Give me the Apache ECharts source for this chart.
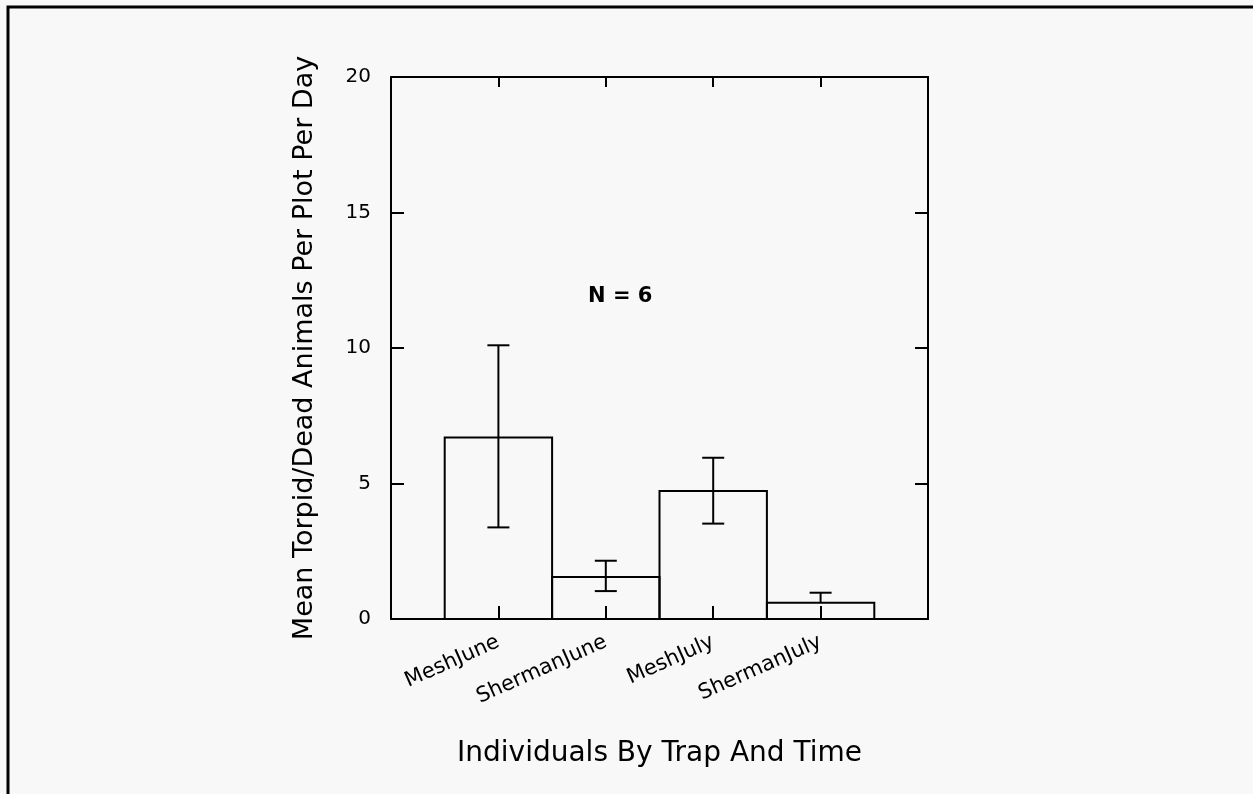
<!DOCTYPE html>
<html>
<head>
<meta charset="utf-8">
<script src="https://cdn.jsdelivr.net/npm/echarts@6/dist/echarts.min.js"></script>
<style>
html,body{margin:0;padding:0;background:#f8f8f8;}
#chart{width:1253px;height:794px;}
</style>
</head>
<body>
<div id="chart"></div>
<script>
// ---- data ----
var categories = ["MeshJune", "ShermanJune", "MeshJuly", "ShermanJuly"];
var means = [6.7, 1.55, 4.72, 0.6];
var upper = [10.1, 2.15, 5.95, 0.97];
var lower = [3.38, 1.03, 3.52, null];
var yTicks = [0, 5, 10, 15, 20];
var annotation = "N = 6";
var xTitle = "Individuals By Trap And Time";
var yTitle = "Mean Torpid/Dead Animals Per Plot Per Day";

var FONT = "DejaVu Sans";
var chart = echarts.init(document.getElementById('chart'), null, {renderer: 'canvas'});

var barData = categories.map(function (c, i) { return [i + 1, means[i]]; });
var errData = categories.map(function (c, i) { return [i + 1, means[i], upper[i], lower[i] == null ? NaN : lower[i]]; });

var frameLine = {show: true, onZero: false, lineStyle: {color: '#000', width: 2}};

var option = {
  backgroundColor: '#f8f8f8',
  animation: false,
  grid: {left: 391, top: 77, right: 325, bottom: 175, containLabel: false},
  xAxis: [{
    type: 'value', min: 0, max: categories.length + 1, interval: 1, position: 'bottom',
    axisLine: frameLine,
    axisTick: {show: true, inside: true, length: 13, lineStyle: {color: '#000', width: 2}},
    splitLine: {show: false},
    axisLabel: {
      rotate: 24, margin: 22, fontFamily: FONT, fontSize: 21, color: '#000',
      formatter: function (v) { return categories[v - 1] || ''; }
    },
    name: xTitle, nameLocation: 'middle', nameGap: 121,
    nameTextStyle: {fontFamily: FONT, fontSize: 28, color: '#000'}
  }, {
    type: 'value', min: 0, max: categories.length + 1, interval: 1, position: 'top',
    axisLine: frameLine,
    axisTick: {show: true, inside: true, length: 10, lineStyle: {color: '#000', width: 2}},
    axisLabel: {show: false}, splitLine: {show: false}
  }],
  yAxis: [{
    type: 'value', min: 0, max: 20, interval: 5, position: 'left',
    axisLine: frameLine,
    axisTick: {show: true, inside: true, length: 13, lineStyle: {color: '#000', width: 2}},
    splitLine: {show: false},
    axisLabel: {margin: 20, fontFamily: FONT, fontSize: 20, color: '#000'},
    name: yTitle, nameLocation: 'middle', nameGap: 73,
    nameTextStyle: {fontFamily: FONT, fontSize: 27, color: '#000'}
  }, {
    type: 'value', min: 0, max: 20, interval: 5, position: 'right',
    axisLine: frameLine,
    axisTick: {show: true, inside: true, length: 13, lineStyle: {color: '#000', width: 2}},
    axisLabel: {show: false}, splitLine: {show: false}
  }],
  series: [{
    type: 'custom',
    xAxisIndex: 0, yAxisIndex: 0,
    data: barData,
    renderItem: function (params, api) {
      var x = api.value(0), v = api.value(1);
      var top = api.coord([x, v]);
      var bot = api.coord([x, 0]);
      var w = api.size([1, 0])[0];
      return {
        type: 'rect',
        shape: {x: top[0] - w / 2, y: top[1], width: w, height: bot[1] - top[1]},
        style: {fill: 'rgba(0,0,0,0)', stroke: '#000', lineWidth: 2}
      };
    }
  }, {
    type: 'custom',
    xAxisIndex: 0, yAxisIndex: 0,
    data: errData,
    renderItem: function (params, api) {
      var x = api.value(0), m = api.value(1), hi = api.value(2), lo = api.value(3);
      var pm = api.coord([x, m]);
      var ph = api.coord([x, hi]);
      var cap = 11;
      var children = [];
      var style = {stroke: '#000', lineWidth: 2};
      var yLow = pm[1];
      if (!isNaN(lo)) {
        var pl = api.coord([x, lo]);
        yLow = pl[1];
        children.push({type: 'line', shape: {x1: pl[0] - cap, y1: pl[1], x2: pl[0] + cap, y2: pl[1]}, style: style});
      }
      children.push({type: 'line', shape: {x1: ph[0], y1: ph[1], x2: ph[0], y2: yLow}, style: style});
      children.push({type: 'line', shape: {x1: ph[0] - cap, y1: ph[1], x2: ph[0] + cap, y2: ph[1]}, style: style});
      return {type: 'group', children: children};
    }
  }],
  graphic: [{
    type: 'polyline',
    shape: {points: [[8, 794], [8, 7], [1253, 7]]},
    style: {stroke: '#000', lineWidth: 3, fill: null}
  }, {
    type: 'text', left: 588, top: 286,
    style: {text: annotation, fontFamily: FONT, fontSize: 21, fontWeight: 'bold', fill: '#000'}
  }]
};
chart.setOption(option);
</script>
</body>
</html>
